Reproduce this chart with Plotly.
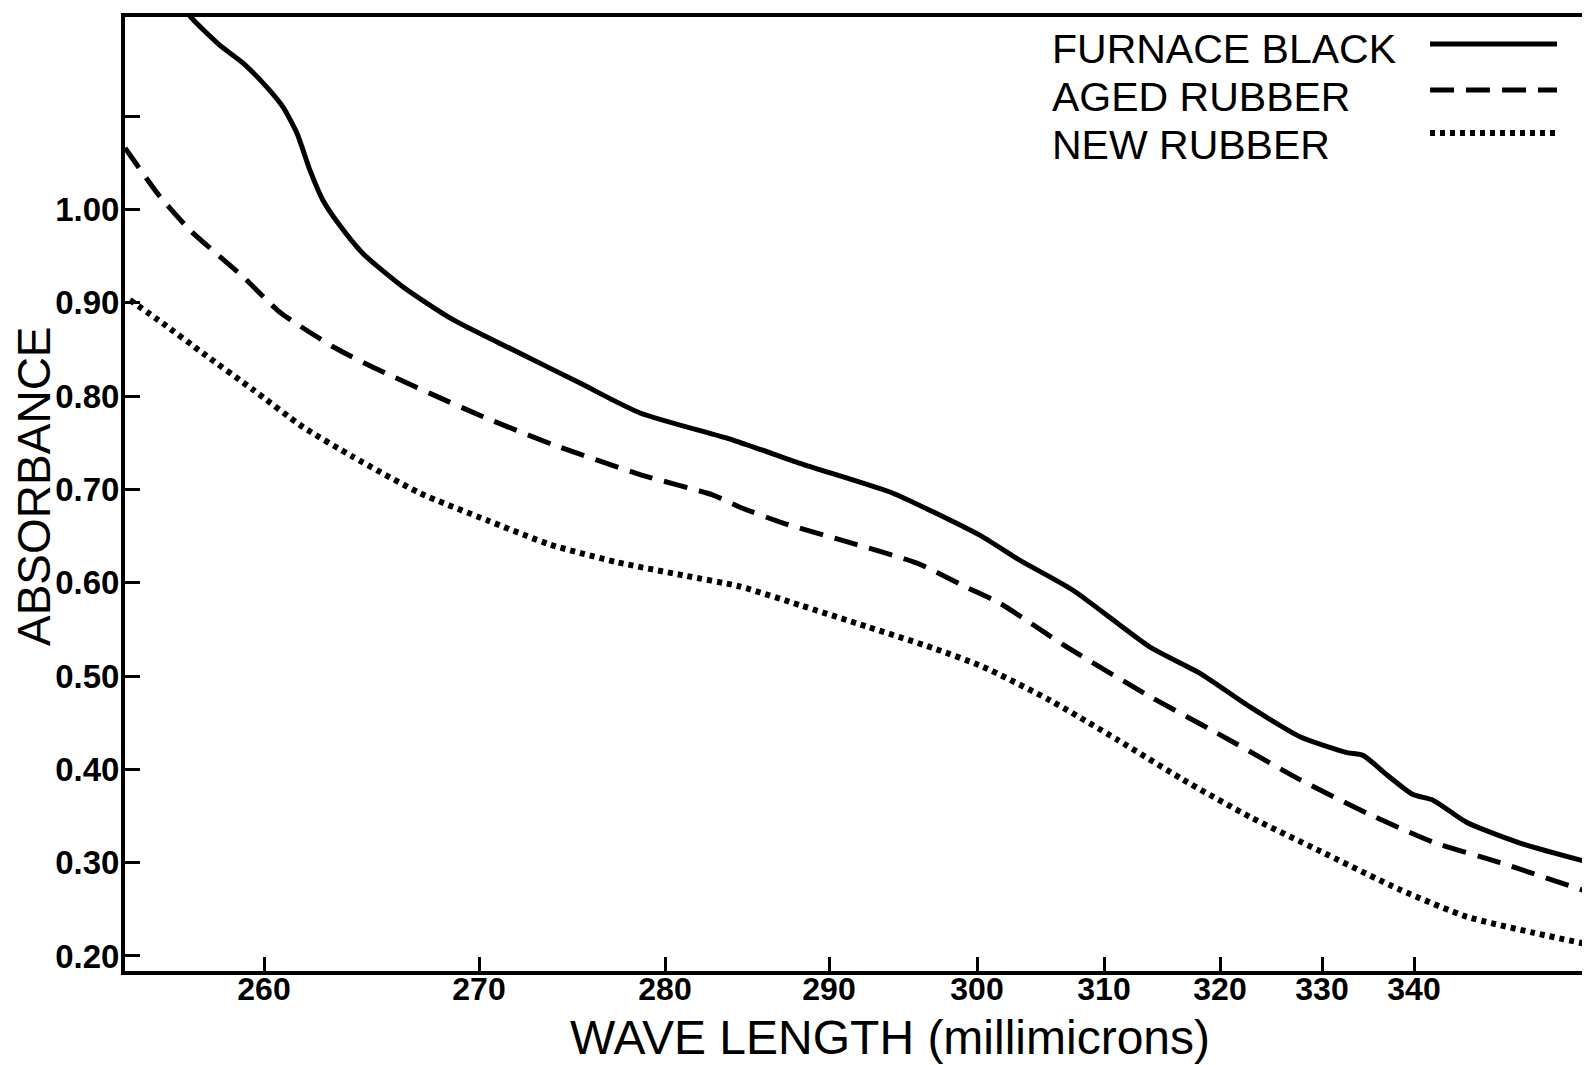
import numpy as np
import plotly.graph_objects as go

# ---------------- data ----------------
furnace_nm = [256.5, 257.07, 258.21, 259.15, 260.14, 260.88, 261.53, 262.14, 262.74, 263.40,
              264.60, 266.47, 268.79, 272.20, 275.43, 278.66, 284.15, 288.23, 294.32, 297.03,
              300.47, 303.39, 307.56, 313.97, 318.28, 322.94, 327.84, 332.72, 334.46, 337.07,
              339.89, 342.32, 346.46, 353.29, 363.23]
furnace_abs = [1.225, 1.205, 1.176, 1.157, 1.131, 1.110, 1.082, 1.042, 1.010, 0.987,
               0.953, 0.917, 0.882, 0.846, 0.814, 0.782, 0.753, 0.728, 0.696, 0.676,
               0.649, 0.624, 0.592, 0.531, 0.503, 0.467, 0.435, 0.418, 0.415, 0.394,
               0.373, 0.367, 0.343, 0.321, 0.300]

aged_nm = [254.35, 255.77, 256.99, 259.15, 260.74, 263.21, 265.07, 267.72, 270.22, 273.98,
           278.66, 282.93, 284.57, 287.20, 291.42, 295.95, 299.32, 301.81, 307.09, 313.97,
           319.74, 327.84, 334.89, 342.32, 350.55, 363.23]
aged_abs = [1.066, 1.014, 0.978, 0.928, 0.890, 0.853, 0.831, 0.803, 0.778, 0.748,
            0.716, 0.694, 0.681, 0.664, 0.643, 0.621, 0.595, 0.578, 0.531, 0.478,
            0.439, 0.389, 0.353, 0.322, 0.300, 0.268]

new_nm = [254.55, 255.89, 257.52, 259.55, 261.81, 264.14, 267.26, 270.43, 273.82, 277.42,
          281.10, 284.57, 288.23, 292.57, 297.03, 300.47, 305.75, 311.12, 316.81, 322.94,
          329.51, 338.48, 346.46, 355.07, 363.23]
new_abs = [0.903, 0.878, 0.846, 0.807, 0.767, 0.735, 0.696, 0.667, 0.641, 0.622,
           0.608, 0.596, 0.576, 0.553, 0.530, 0.510, 0.474, 0.432, 0.389, 0.349,
           0.314, 0.271, 0.242, 0.225, 0.212]

series_names = ["FURNACE BLACK", "AGED RUBBER", "NEW RUBBER"]

x_tick_nm = [260, 270, 280, 290, 300, 310, 320, 330, 340]
x_tick_labels = ["260", "270", "280", "290", "300", "310", "320", "330", "340"]
y_tick_vals = [0.20, 0.30, 0.40, 0.50, 0.60, 0.70, 0.80, 0.90, 1.00, 1.10]
y_tick_labels = ["0.20", "0.30", "0.40", "0.50", "0.60", "0.70", "0.80", "0.90", "1.00", ""]

# ---------------- hand-drawn (non-linear) wavelength scale ----------------
# wavelength -> horizontal axis coordinate, as spaced on the original graph paper
SCALE_NM = [250, 260, 270, 280, 290, 300, 310, 320, 330, 340, 350, 360, 370]
SCALE_POS = [18, 264, 479, 665, 829, 977, 1104, 1220, 1322, 1414, 1496, 1569, 1634]


def to_axis(nm):
    return np.interp(np.asarray(nm, dtype=float), SCALE_NM, SCALE_POS)


FONT = "Liberation Sans"
PAGE_OFFSET = 8          # default body margin of the html page
W, H = 1590 - PAGE_OFFSET, 1065 - PAGE_OFFSET
PLOT_LEFT, PLOT_TOP, PLOT_BOTTOM = 125, 17, 971   # in page pixels
ML = PLOT_LEFT - PAGE_OFFSET
MT = PLOT_TOP - PAGE_OFFSET
MB = (H + PAGE_OFFSET) - PLOT_BOTTOM
MR = 0
X_RANGE = [125, 1590]
Y_RANGE = [0.1839, 1.2064]

styles = [
    dict(color="black", width=5, dash="solid"),
    dict(color="black", width=5, dash="24px,12px"),
    dict(color="black", width=6, dash="5px,5px"),
]
data = [(furnace_nm, furnace_abs), (aged_nm, aged_abs), (new_nm, new_abs)]

fig = go.Figure()
for (nm, ab), name, st in zip(data, series_names, styles):
    fig.add_trace(go.Scatter(
        x=to_axis(nm), y=ab, mode="lines", name=name,
        line=dict(color=st["color"], width=st["width"], dash=st["dash"],
                  shape="spline", smoothing=0.6),
        showlegend=False, hoverinfo="skip",
    ))

fig.update_layout(
    width=W, height=H,
    margin=dict(l=ML, r=MR, t=MT, b=MB, pad=0),
    paper_bgcolor="white", plot_bgcolor="white",
    font=dict(family=FONT, color="black"),
)

fig.update_xaxes(
    range=X_RANGE, showgrid=False, zeroline=False,
    showline=True, linecolor="black", linewidth=4, mirror=True,
    ticks="inside", ticklen=14, tickwidth=3, tickcolor="black",
    tickvals=list(to_axis(x_tick_nm)), ticktext=x_tick_labels,
    ticklabelstandoff=-13,
    tickfont=dict(family=FONT, size=32, color="black", weight="bold"),
)
fig.update_yaxes(
    range=Y_RANGE, showgrid=False, zeroline=False,
    showline=True, linecolor="black", linewidth=4, mirror=False,
    ticks="inside", ticklen=15, tickwidth=3, tickcolor="black",
    tickvals=y_tick_vals, ticktext=y_tick_labels,
    ticklabelstandoff=-5,
    tickfont=dict(family=FONT, size=33, color="black", weight="bold"),
)

plot_h = PLOT_BOTTOM - PLOT_TOP


def paper_y(px):
    return (PLOT_BOTTOM - px) / plot_h


# axis titles
fig.add_annotation(
    text="WAVE LENGTH (millimicrons)", xref="x", yref="paper",
    x=890, y=0, yanchor="middle", xanchor="center", yshift=-66,
    showarrow=False, font=dict(family=FONT, size=48, color="black"),
)
fig.add_annotation(
    text="ABSORBANCE", xref="paper", yref="paper", textangle=-90,
    x=0, xshift=-91, y=paper_y(486), xanchor="center", yanchor="middle",
    showarrow=False, font=dict(family=FONT, size=46, color="black"),
)

# legend: text on the left, line sample on the right
legend_text_y = [49, 97, 145]
legend_line_y = [44, 90, 133]
for name, st, ty, ly in zip(series_names, styles, legend_text_y, legend_line_y):
    fig.add_annotation(
        text=name, xref="x", yref="paper", x=1050, y=paper_y(ty),
        xanchor="left", yanchor="middle", showarrow=False,
        font=dict(family=FONT, size=41, color="black"),
    )
    fig.add_shape(
        type="line", xref="x", yref="paper", x0=1430, x1=1557,
        y0=paper_y(ly), y1=paper_y(ly),
        line=dict(color="black", width=st["width"], dash=st["dash"]),
    )

fig.write_html("out.html", config={"displayModeBar": False})
